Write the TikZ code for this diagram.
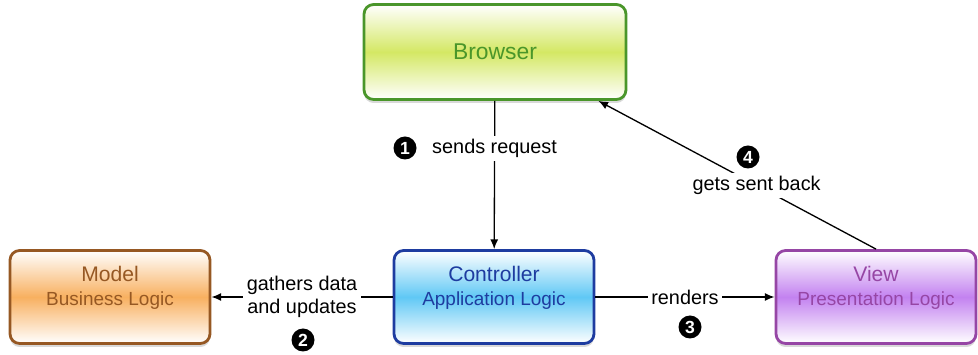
\documentclass[tikz,border=0pt]{standalone}
\usepackage{fontspec}
\setmainfont{Liberation Sans}
\usetikzlibrary{arrows.meta,shadows}

\definecolor{browserline}{RGB}{74,150,42}
\definecolor{browserfill}{RGB}{212,232,100}
\definecolor{modelline}{RGB}{150,88,35}
\definecolor{modelfill}{RGB}{248,176,96}
\definecolor{ctrlline}{RGB}{30,60,160}
\definecolor{ctrlfill}{RGB}{96,200,245}
\definecolor{viewline}{RGB}{150,70,165}
\definecolor{viewfill}{RGB}{195,130,240}

\tikzset{
  layer/.style={rectangle, rounded corners=5.5pt, line width=1.6pt,
    minimum width=4cm, minimum height=1.86cm, align=center,
    draw=#1line, text=#1line, top color=white, bottom color=white,
    middle color=#1fill,
    drop shadow={opacity=.3, shadow xshift=0pt, shadow yshift=-.7mm},
    font=\fontsize{12}{13.5}\selectfont},
  flow/.style={line width=.75pt, -{Latex[length=5.5pt,width=4.5pt]}},
  msg/.style={fill=white, inner sep=2pt, align=center,
    font=\fontsize{11.3}{13}\selectfont},
  stepnum/.style={circle, fill=black, text=white, inner sep=0pt,
    minimum size=.46cm, font=\fontsize{10}{10}\selectfont\bfseries}
}
\newcommand{\sublayer}[1]{{\fontsize{10.8}{13}\selectfont #1}}

\begin{document}
\begin{tikzpicture}
  \useasboundingbox (0,0) rectangle (19.56,7.1);
  \node[layer=browser, minimum width=5.24cm, minimum height=1.9cm,
    font=\fontsize{13}{15}\selectfont] (browser) at (9.9,6.06) {Browser};
  \node[layer=model, text depth=.44cm] (model) at (2.2,1.16)
    {Model\\\sublayer{Business Logic}};
  \node[layer=ctrl, text depth=.44cm] (ctrl) at (9.88,1.16)
    {Controller\\\sublayer{Application Logic}};
  \node[layer=view, text depth=.44cm] (view) at (17.52,1.16)
    {View\\\sublayer{Presentation Logic}};

  % requests and responses
  \draw[flow] (browser) -- node[msg, pos=.32] (req) {sends request} (ctrl);
  \draw[flow] (ctrl) -- node[msg] (upd) {gathers data\\and updates} (model);
  \draw[flow] (ctrl) -- node[msg] (ren) {renders} (view);
  \draw[flow] (view.north) -- node[msg, pos=.43] (back) {gets sent back}
    ([xshift=-.58cm]browser.south east);

  % step numbers
  \node[stepnum] (s1) at (8.1,4.14) {1};
  \node[stepnum] (s2) at (6.06,.3) {2};
  \node[stepnum] (s3) at (13.8,.56) {3};
  \node[stepnum] (s4) at (14.96,3.96) {4};
\end{tikzpicture}
\end{document}
